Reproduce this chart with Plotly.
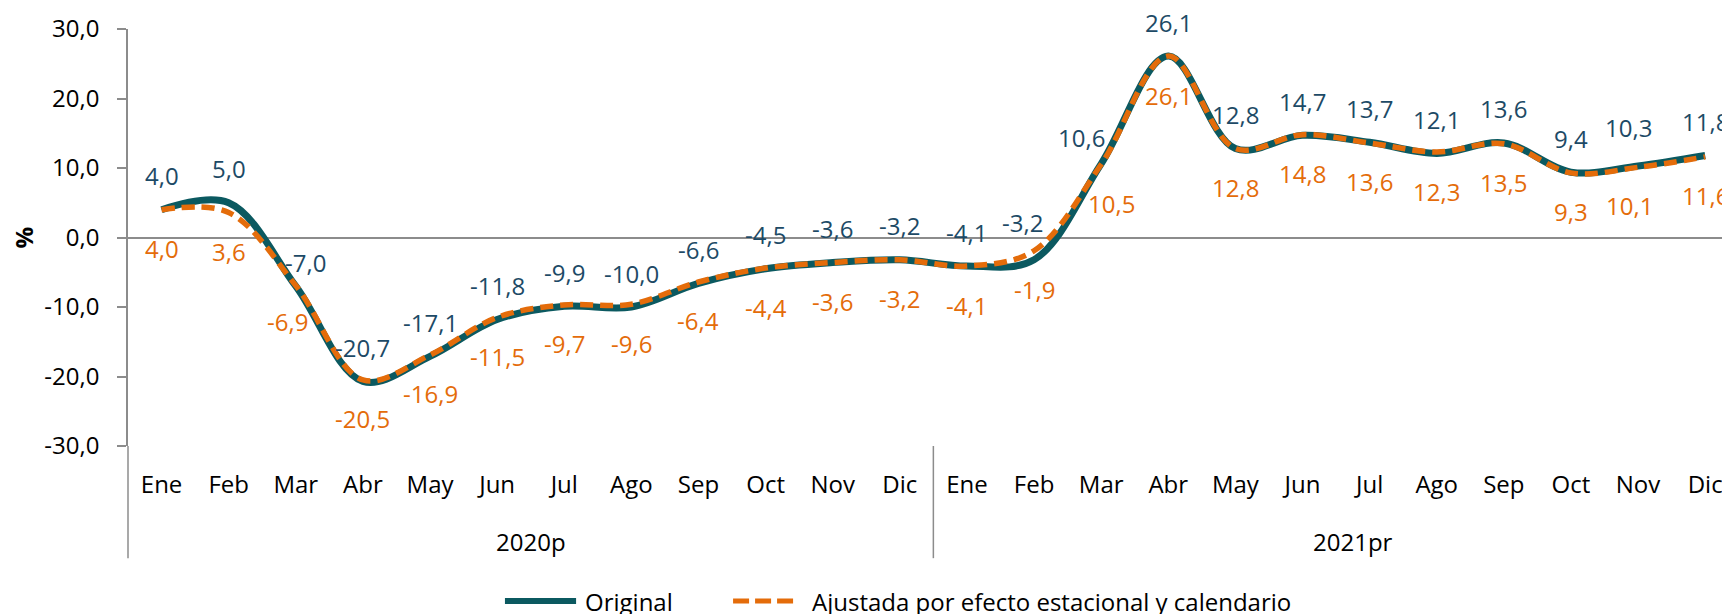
import plotly.graph_objects as go

# ---------------- data ----------------
months = ["Ene", "Feb", "Mar", "Abr", "May", "Jun", "Jul", "Ago", "Sep", "Oct", "Nov", "Dic"]
years = ["2020p", "2021pr"]
categories = months + months

original = [4.0, 5.0, -7.0, -20.7, -17.1, -11.8, -9.9, -10.0, -6.6, -4.5, -3.6, -3.2,
            -4.1, -3.2, 10.6, 26.1, 12.8, 14.7, 13.7, 12.1, 13.6, 9.4, 10.3, 11.8]
ajustada = [4.0, 3.6, -6.9, -20.5, -16.9, -11.5, -9.7, -9.6, -6.4, -4.4, -3.6, -3.2,
            -4.1, -1.9, 10.5, 26.1, 12.8, 14.8, 13.6, 12.3, 13.5, 9.3, 10.1, 11.6]

y_ticks = [30, 20, 10, 0, -10, -20, -30]

name_orig = "Original"
name_adj = "Ajustada por efecto estacional y calendario"

# ---------------- styles ----------------
C_ORIG = "#0B5960"
C_ORIG_TXT = "#1D4A66"
C_ADJ = "#E46C0A"
C_AXIS = "#8C8C8C"
FONT = "Open Sans"
FS = 24

# label nudges (pixels) : index -> (dx, dy) ; dy positive = up
orig_nudge = {2: (10, -10), 13: (-12, 3), 14: (-20, -8), 22: (-10, 4)}
adj_nudge = {2: (-8, 3), 14: (10, 0), 22: (-9, 1)}

def fmt(v):
    return f"{v:.1f}".replace(".", ",")

x_idx = list(range(len(categories)))

fig = go.Figure()
fig.add_trace(go.Scatter(
    x=x_idx, y=original, mode="lines", name=name_orig,
    line=dict(color=C_ORIG, width=7, shape="spline", smoothing=1.0),
    showlegend=False, hoverinfo="skip"))
fig.add_trace(go.Scatter(
    x=x_idx, y=ajustada, mode="lines", name=name_adj,
    line=dict(color=C_ADJ, width=5.5, shape="spline", smoothing=1.0, dash="13px,7px"),
    showlegend=False, hoverinfo="skip"))

annotations = []
for i, v in enumerate(original):
    dx, dy = orig_nudge.get(i, (0, 0))
    annotations.append(dict(x=i, y=v, xref="x", yref="y", text=fmt(v), showarrow=False,
                            xanchor="center", yanchor="middle",
                            xshift=dx, yshift=34 + dy,
                            font=dict(family=FONT, size=FS, color=C_ORIG_TXT)))
for i, v in enumerate(ajustada):
    dx, dy = adj_nudge.get(i, (0, 0))
    annotations.append(dict(x=i, y=v, xref="x", yref="y", text=fmt(v), showarrow=False,
                            xanchor="center", yanchor="middle",
                            xshift=dx, yshift=-39 + dy,
                            font=dict(family=FONT, size=FS, color=C_ADJ)))

# year group labels
n = len(months)
year_x = [(n - 1) / 2, n + (n - 1) / 2 + 0.25]
for yx, yl in zip(year_x, years):
    annotations.append(dict(x=yx, y=-0.230, xref="x", yref="paper", text=yl, showarrow=False,
                            xanchor="center", yanchor="middle",
                            font=dict(family=FONT, size=FS, color="#000000")))

# y-axis title
annotations.append(dict(x=-0.0655, y=0.5, xref="paper", yref="paper", text="<b>%</b>",
                        showarrow=False, textangle=-90, xanchor="center", yanchor="middle",
                        font=dict(family=FONT, size=FS, color="#000000")))

# manual legend texts
LEG_Y = -0.372
annotations.append(dict(x=0.284, y=LEG_Y, xref="paper", yref="paper", text=name_orig,
                        showarrow=False, xanchor="left", yanchor="middle",
                        font=dict(family=FONT, size=FS, color="#000000")))
annotations.append(dict(x=0.4257, y=LEG_Y, xref="paper", yref="paper", text=name_adj,
                        showarrow=False, xanchor="left", yanchor="middle",
                        font=dict(family=FONT, size=FS, color="#000000")))

shapes = [
    # y axis extension below plot (category label area)
    dict(type="line", xref="paper", yref="paper", x0=0, x1=0, y0=0, y1=-0.269,
         line=dict(color=C_AXIS, width=1.5)),
    # separator between years
    dict(type="line", xref="x", yref="paper", x0=n - 0.5, x1=n - 0.5, y0=0, y1=-0.269,
         line=dict(color=C_AXIS, width=1.5)),
    # legend samples
    dict(type="line", xref="paper", yref="paper", x0=0.2353, x1=0.2797, y0=LEG_Y, y1=LEG_Y,
         line=dict(color=C_ORIG, width=6)),
    dict(type="line", xref="paper", yref="paper", x0=0.3777, x1=0.4182, y0=LEG_Y, y1=LEG_Y,
         line=dict(color=C_ADJ, width=5, dash="16px,6px")),
]

fig.update_layout(
    width=1722, height=606,
    margin=dict(l=120, r=0, t=21, b=168),
    paper_bgcolor="white", plot_bgcolor="white",
    font=dict(family=FONT, size=FS, color="#000000"),
    annotations=annotations, shapes=shapes,
    showlegend=False,
)
fig.update_xaxes(
    range=[-0.5, 23.37], tickmode="array", tickvals=x_idx, ticktext=categories,
    showgrid=False, zeroline=False, showline=False, ticks="",
    tickfont=dict(family=FONT, size=FS, color="#000000"), ticklabelstandoff=22,
)
fig.update_yaxes(
    range=[-30, 30], tickmode="array", tickvals=y_ticks, ticktext=[fmt(t) for t in y_ticks],
    showgrid=False, zeroline=True, zerolinecolor=C_AXIS, zerolinewidth=1.5,
    showline=True, linecolor=C_AXIS, linewidth=1.5,
    ticks="outside", ticklen=9, tickcolor=C_AXIS, tickwidth=1.5,
    tickfont=dict(family=FONT, size=FS, color="#000000"), ticklabelstandoff=13,
)

fig.write_html("out.html")
